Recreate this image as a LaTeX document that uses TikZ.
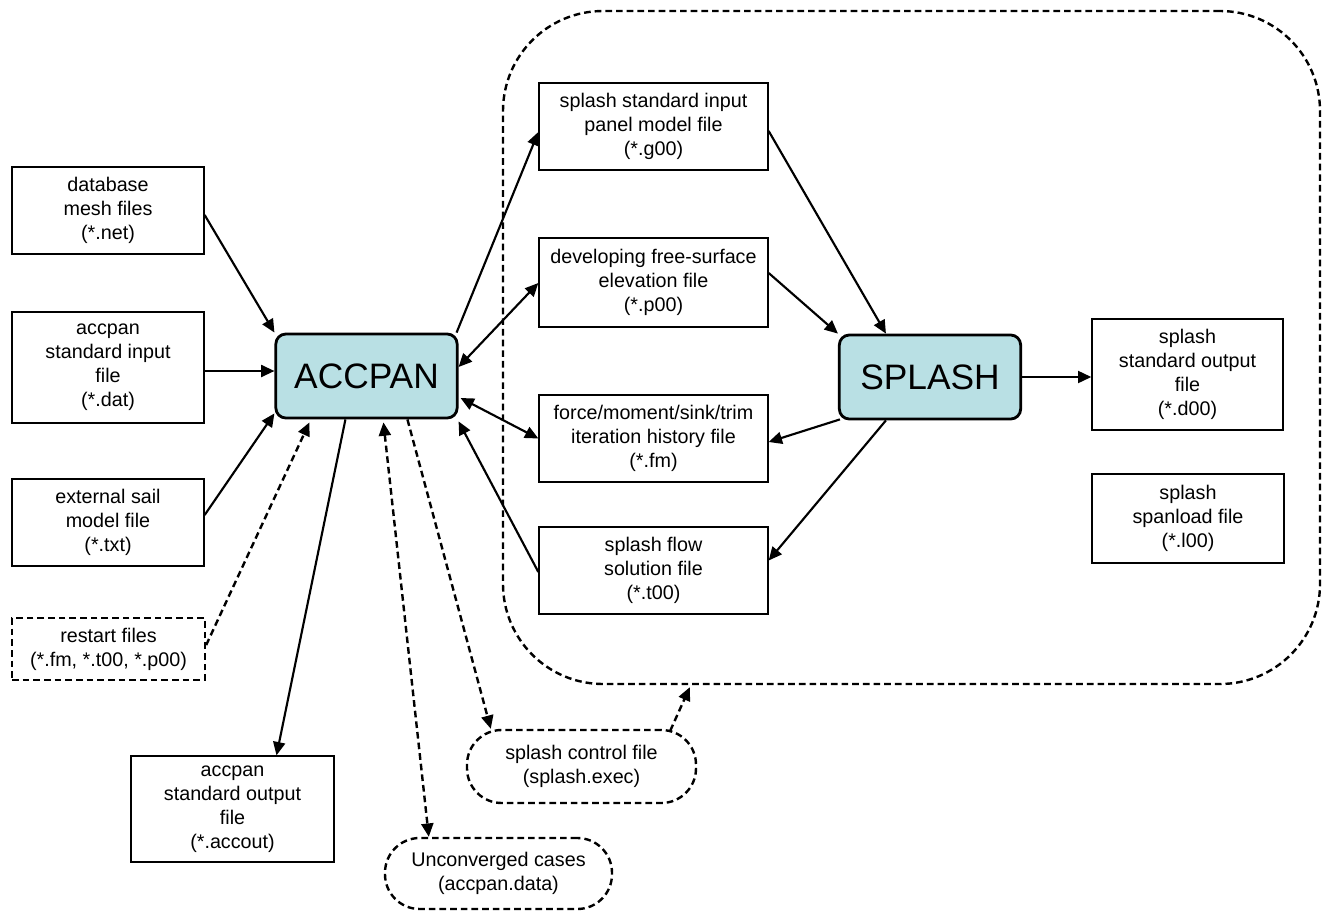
\documentclass[tikz,border=0pt]{standalone}
\usepackage{fontspec}
\setmainfont{Liberation Sans}
\usetikzlibrary{arrows.meta,calc}
\definecolor{progfill}{RGB}{185,224,228}
\begin{document}
\begin{tikzpicture}[x=0.75pt,y=-0.75pt,
  every node/.style={font=\fontsize{14.8}{18}\selectfont},
  filebox/.style={draw, line width=1pt, align=center, inner sep=0pt},
  dashbox/.style={draw, line width=1.8pt, dash pattern=on 5pt off 3pt, align=center, inner sep=0pt},
  ovalbox/.style={dashbox, rounded corners=26pt, minimum width=171pt, minimum height=54pt},
  progbox/.style={draw, line width=2.1pt, fill=progfill, rounded corners=7.5pt, inner sep=0pt,
     minimum width=136pt, minimum height=63pt, font=\fontsize{26.5}{30}\selectfont},
  region/.style={draw, line width=1.8pt, dash pattern=on 5pt off 3pt, rounded corners=75pt,
     minimum width=612.75pt, minimum height=504.75pt, inner sep=0pt},
  arr/.style={line width=1.6pt, -{Triangle[length=10pt,width=9pt]}},
  barr/.style={line width=1.6pt, {Triangle[length=10pt,width=9pt]}-{Triangle[length=10pt,width=9pt]}},
  darr/.style={arr, line width=1.8pt, dash pattern=on 5pt off 3pt},
  dbarr/.style={barr, line width=1.8pt, dash pattern=on 5pt off 3pt}
]
\useasboundingbox (0,0) rectangle (1325,914);

% region
\node[region] (reg) at (911.5,347.5) {};

% left column
\node[filebox, minimum width=144pt, minimum height=65.25pt] (db) at (108,210.5) {database\\mesh files\\(*.net)};
\node[filebox, minimum width=144pt, minimum height=83.25pt] (inp) at (108,367.5) {accpan\\standard input\\file\\(*.dat)};
\node[filebox, minimum width=144pt, minimum height=65.25pt] (ext) at (108,522.5) {external sail\\model file\\(*.txt)};
\node[dashbox, minimum width=144.75pt, minimum height=46.5pt] (rst) at (108.5,649) {restart files\\(*.fm, *.t00, *.p00)};
\node[filebox, minimum width=152.25pt, minimum height=79.5pt] (aout) at (232.5,809) {accpan\\standard output\\file\\(*.accout)};

% ovals
\node[ovalbox, minimum width=170.25pt, minimum height=53.25pt] (unc) at (498.5,873.5) {Unconverged cases\\(accpan.data)};
\node[ovalbox, minimum width=171.75pt, minimum height=54.75pt] (ctl) at (581.5,766.5) {splash control file\\(splash.exec)};

% programs
\node[progbox] (acc) at (366.5,376) {ACCPAN};
\node[progbox] (spl) at (930,377) {SPLASH};

% middle column
\node[filebox, minimum width=171.75pt, minimum height=65.25pt] (sin) at (653.5,126.5) {splash standard input\\panel model file\\(*.g00)};
\node[filebox, minimum width=171.75pt, minimum height=66.75pt] (dev) at (653.5,282.5) {developing free-surface\\elevation file\\(*.p00)};
\node[filebox, minimum width=171.75pt, minimum height=65.25pt] (frc) at (653.5,438.5) {force/moment/sink/trim\\iteration history file\\(*.fm)};
\node[filebox, minimum width=171.75pt, minimum height=65.25pt] (flw) at (653.5,570.5) {splash flow\\solution file\\(*.t00)};

% right column
\node[filebox, minimum width=143.25pt, minimum height=83.25pt] (sout) at (1187.5,374.5) {splash\\standard output\\file\\(*.d00)};
\node[filebox, minimum width=144pt, minimum height=66.75pt] (span) at (1188,518.5) {splash\\spanload file\\(*.l00)};

% connectors
\draw[arr] ($(db.east)+(0,4.5)$) -- (acc.north west);
\draw[arr] ($(inp.east)+(0,3.5)$) -- ($(acc.west)+(0,-5)$);
\draw[arr] ($(ext.east)+(0,-7.5)$) -- ($(acc.south west)+(0,-6)$);
\draw[darr] ($(rst.east)+(0,-4)$) -- ($(acc.south west)+(35,3)$);
\draw[arr] ($(acc.south west)+(71,0)$) -- ($(aout.north)+(44,0)$);
\draw[dbarr] ($(acc.south west)+(109,3)$) -- ($(unc.north west)+(45,0)$);
\draw[darr] ($(acc.south west)+(133,0)$) -- ($(ctl.north west)+(25,0)$);
\draw[darr] ($(ctl.north east)+(-27,2)$) -- ($(reg.south west)+(188,2)$);

\draw[arr] ($(acc.north east)+(-2,0)$) -- ($(sin.west)+(0,5.5)$);
\draw[barr] ($(acc.east)+(0,-9)$) -- ($(dev.west)+(0,0.5)$);
\draw[barr] ($(acc.east)+(2,22)$) -- (frc.west);
\draw[arr] ($(flw.west)+(0,1.5)$) -- ($(acc.south east)+(0,2)$);

\draw[arr] ($(sin.east)+(0,4.5)$) -- ($(spl.north west)+(48,0)$);
\draw[arr] ($(dev.east)+(0,-9.5)$) -- (spl.north west);
\draw[arr] ($(spl.south west)+(2,-1)$) -- ($(frc.east)+(0,3.5)$);
\draw[arr] ($(spl.south west)+(48,0)$) -- ($(flw.east)+(0,-10)$);
\draw[arr] (spl.east) -- ($(sout.west)+(0,2.5)$);
\end{tikzpicture}
\end{document}
